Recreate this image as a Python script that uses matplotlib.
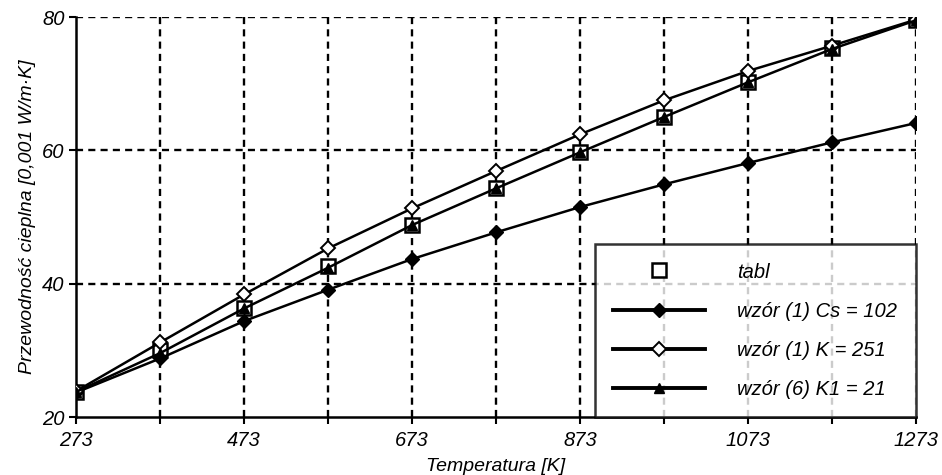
import numpy as np
import matplotlib
matplotlib.use("Agg")
from matplotlib import pyplot as plt

plt.rcParams['font.family'] = ['Liberation Sans', 'DejaVu Sans']
plt.rcParams['font.style'] = 'italic'

temp = [273, 373, 473, 573, 673, 773, 873, 973, 1073, 1173, 1273]
tabl = [23.8, 30.0, 36.3, 42.6, 48.8, 54.3, 59.7, 65.0, 70.3, 75.3, 79.5]
wzor1_cs = [23.7, 28.8, 34.4, 39.1, 43.7, 47.7, 51.5, 54.9, 58.1, 61.2, 64.1]
wzor1_k = [23.9, 31.2, 38.4, 45.3, 51.3, 56.9, 62.4, 67.5, 71.9, 75.7, 79.6]
wzor6_k1 = [23.8, 29.6, 36.3, 42.4, 48.8, 54.3, 59.7, 65.0, 70.2, 75.2, 79.5]

xticks = [273, 473, 673, 873, 1073, 1273]
yticks = [20, 40, 60, 80]

fig = plt.figure(figsize=(9.42, 4.75), dpi=100)
ax = fig.add_axes([0.081, 0.122, 0.891, 0.842])

ax.plot(temp, tabl, ls='none', marker='s', ms=10, mfc='white', mec='black', mew=1.8, label='tabl', zorder=3)
ax.plot(temp, wzor1_cs, color='black', lw=1.8, marker='D', ms=7.5, mfc='black', mec='black', label='wzór (1) Cs = 102', zorder=4)
ax.plot(temp, wzor1_k, color='black', lw=1.8, marker='D', ms=7.5, mfc='white', mec='black', mew=1.4, label='wzór (1) K = 251', zorder=4)
ax.plot(temp, wzor6_k1, color='black', lw=1.8, marker='^', ms=7.5, mfc='black', mec='black', label='wzór (6) K1 = 21', zorder=4)

ax.set_xlim(273, 1273)
ax.set_ylim(20, 80)
ax.set_xticks(xticks)
ax.set_xticks(np.arange(373, 1274, 200), minor=True)
ax.set_yticks(yticks)
ax.tick_params(axis='both', which='both', direction='out', length=5, width=1.5, labelsize=14.5, colors='black')
ax.tick_params(axis='x', pad=5)

# dashed grid every 100 K and every 20 units
for xv in np.arange(373, 1274, 100):
    ax.axvline(xv, color='black', ls=(0, (3, 2.2)), lw=1.7, zorder=1)
for yv in [40, 60, 80]:
    ax.axhline(yv, color='black', ls=(0, (3, 2.2)), lw=1.7, zorder=1)

for s in ['top', 'right']:
    ax.spines[s].set_visible(False)
ax.spines['left'].set_linewidth(1.8)
ax.spines['bottom'].set_linewidth(1.8)

ax.set_xlabel('Temperatura [K]', fontsize=14, labelpad=6)
ax.set_ylabel('Przewodność cieplna [0,001 W/m·K]', fontsize=14, labelpad=4)

leg = ax.legend(loc='lower right', bbox_to_anchor=(1.0, 0.0), fontsize=14.5, frameon=True,
                fancybox=False, edgecolor='black', handlelength=4.6, handletextpad=1.6,
                labelspacing=1.0, borderpad=0.9, borderaxespad=0.0)
leg.get_frame().set_linewidth(1.8)
for line in leg.get_lines():
    line.set_linewidth(2.8)
leg.set_zorder(5)

fig.savefig('out.png', dpi=100)
